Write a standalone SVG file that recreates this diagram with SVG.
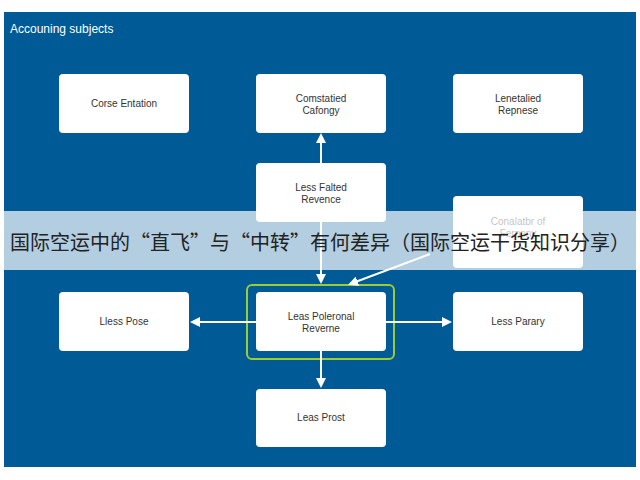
<svg xmlns="http://www.w3.org/2000/svg" width="640" height="480" viewBox="0 0 640 480">
<defs>
<style>
.n{fill:#fff;rx:4}
.t{font-family:"Liberation Sans",Arial,sans-serif;font-size:10px;fill:#333;text-anchor:middle}
.c{stroke:#fff;stroke-width:2;fill:none;marker-end:url(#a)}
</style>
<marker id="a" viewBox="0 0 10 10" refX="8" refY="5" markerWidth="5" markerHeight="5" orient="auto"><path d="M0,0L10,5L0,10z" fill="#fff"/></marker>
</defs>
<rect width="640" height="480" fill="#fff"/>
<rect x="4" y="12" width="632" height="455" fill="#005a96"/>
<text x="10" y="33" font-family="Liberation Sans,Arial,sans-serif" font-size="12" fill="#fff">Accouning subjects</text>
<g id="n1"><rect class="n" x="59" y="74" width="130" height="59"/><text class="t" x="124" y="107">Corse Entation</text></g>
<g id="n2"><rect class="n" x="256" y="74" width="130" height="59"/><text class="t" x="321" y="102">Comstatied</text><text class="t" x="321" y="114">Cafongy</text></g>
<g id="n3"><rect class="n" x="453" y="74" width="130" height="59"/><text class="t" x="518" y="102">Lenetalied</text><text class="t" x="518" y="114">Repnese</text></g>
<g id="n4"><rect class="n" x="256" y="163" width="130" height="59"/><text class="t" x="321" y="191">Less Falted</text><text class="t" x="321" y="203">Revence</text></g>
<g id="n5"><rect class="n" x="453" y="196" width="130" height="72"/><text class="t" x="518" y="225" fill="#999">Conalatbr of</text><text class="t" x="518" y="237">Fernnny</text></g>
<g id="n6"><rect class="n" x="59" y="292" width="130" height="59"/><text class="t" x="124" y="325">Lless Pose</text></g>
<g id="n7"><rect x="247" y="285" width="147" height="74" rx="5" fill="none" stroke="#9acd32" stroke-width="2"/><rect class="n" x="256" y="292" width="130" height="59"/><text class="t" x="321" y="320">Leas Poleronal</text><text class="t" x="321" y="332">Reverne</text></g>
<g id="n8"><rect class="n" x="453" y="292" width="130" height="59"/><text class="t" x="518" y="325">Less Parary</text></g>
<g id="n9"><rect class="n" x="256" y="389" width="130" height="58"/><text class="t" x="321" y="421">Leas Prost</text></g>
<g id="connectors">
<line class="c" x1="321" y1="163" x2="321" y2="135"/>
<line class="c" x1="321" y1="222" x2="321" y2="282"/>
<line class="c" x1="430" y1="254" x2="350" y2="284"/>
<line class="c" x1="256" y1="322" x2="192" y2="322"/>
<line class="c" x1="386" y1="322" x2="450" y2="322"/>
<line class="c" x1="321" y1="351" x2="321" y2="386"/>
</g>
<rect x="4" y="211" width="632" height="59" fill="#fff" fill-opacity="0.7"/>
<text x="10" y="250" font-family="Noto Sans CJK SC,sans-serif" font-size="20" fill="#222">国际空运中的“直飞”与“中转”有何差异（国际空运干货知识分享）</text>
</svg>
